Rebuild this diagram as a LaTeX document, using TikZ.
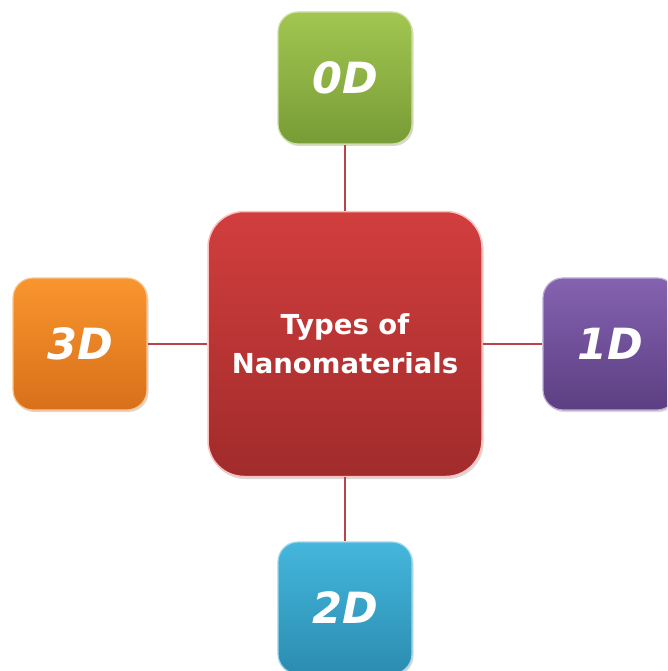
\documentclass[tikz,border=0pt]{standalone}
\usepackage{fontspec}
\setmainfont{Liberation Sans}
\newfontfamily\heavyfont{DejaVu Sans}
\usetikzlibrary{shadows}
\definecolor{linkred}{HTML}{B8434B}
\definecolor{hubtop}{HTML}{D23E3E}
\definecolor{hubbot}{HTML}{A12B2B}
\definecolor{gtop}{HTML}{A2C650}
\definecolor{gbot}{HTML}{789C36}
\definecolor{otop}{HTML}{F9952E}
\definecolor{obot}{HTML}{D8701A}
\definecolor{ptop}{HTML}{8462B0}
\definecolor{pbot}{HTML}{5C3F82}
\definecolor{btop}{HTML}{45B6DC}
\definecolor{bbot}{HTML}{2A8DB0}
\tikzset{
  box/.style={rounded corners=20pt, minimum width=134pt, minimum height=132pt,
    inner sep=0pt, text=white, line width=1.2pt,
    drop shadow={shadow xshift=1.5pt, shadow yshift=-2pt, opacity=0.25, fill=black!60},
    font=\heavyfont\fontsize{43}{43}\selectfont\bfseries\itshape},
  hub/.style={rounded corners=36pt, minimum width=274pt, minimum height=265pt,
    inner sep=0pt, text=white, line width=1.5pt, draw=red!25!white,
    drop shadow={shadow xshift=1.5pt, shadow yshift=-2.5pt, opacity=0.25, fill=black!60},
    top color=hubtop, bottom color=hubbot, align=center,
    font=\heavyfont\fontsize{27.5}{39}\selectfont\bfseries},
  link/.style={draw=linkred, line width=2.2pt}
}
\begin{document}
\begin{tikzpicture}[x=1pt,y=-1pt]
\useasboundingbox (0,0) rectangle (667,671);
\clip (0,0) rectangle (667,671);
\fill[white] (0,0) rectangle (667,671);
\node[hub] (hub) at (345,344) {Types of\\Nanomaterials};
\node[box, top color=gtop, bottom color=gbot, draw=gtop!55!white] (zero) at (345,78) {0D};
\node[box, top color=otop, bottom color=obot, draw=otop!55!white] (three) at (80,344) {3D};
\node[box, top color=ptop, bottom color=pbot, draw=ptop!55!white] (one) at (610,344) {1D};
\node[box, top color=btop, bottom color=bbot, draw=btop!55!white] (two) at (345,608) {2D};
\draw[link] (zero) -- (hub);
\draw[link] (three) -- (hub);
\draw[link] (one) -- (hub);
\draw[link] (two) -- (hub);
\end{tikzpicture}
\end{document}
